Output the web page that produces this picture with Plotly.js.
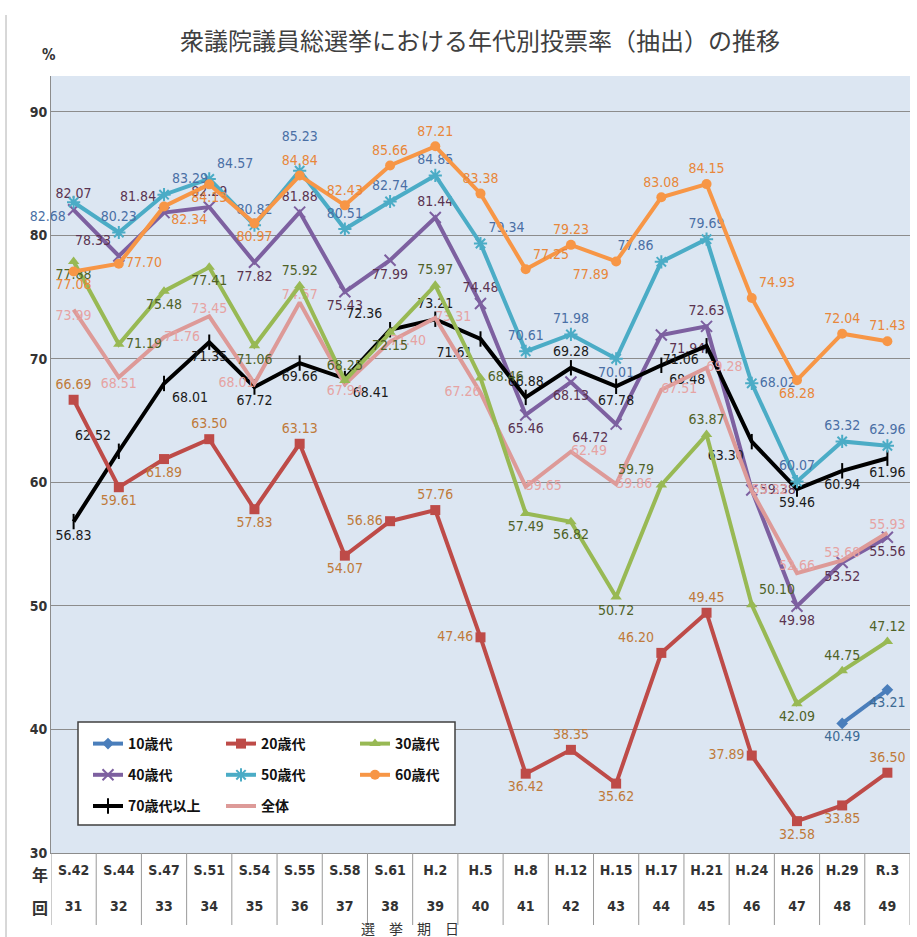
<!DOCTYPE html>
<html><head><meta charset="utf-8">
<script src="https://cdn.plot.ly/plotly-3.0.1.min.js"></script>
<style>html,body{margin:0;padding:0;background:#fff}#c{width:917px;height:937px}</style>
</head><body><div id="c"></div>
<script>
// ---- data ----
const eras = ['S.42','S.44','S.47','S.51','S.54','S.55','S.58','S.61','H.2','H.5','H.8','H.12','H.15','H.17','H.21','H.24','H.26','H.29','R.3'];
const rounds = ['31','32','33','34','35','36','37','38','39','40','41','42','43','44','45','46','47','48','49'];
const teens    = [null,null,null,null,null,null,null,null,null,null,null,null,null,null,null,null,null,40.49,43.21];
const twenties = [66.69,59.61,61.89,63.50,57.83,63.13,54.07,56.86,57.76,47.46,36.42,38.35,35.62,46.20,49.45,37.89,32.58,33.85,36.50];
const thirties = [77.88,71.19,75.48,77.41,71.06,75.92,68.25,72.15,75.97,68.46,57.49,56.82,50.72,59.79,63.87,50.10,42.09,44.75,47.12];
const forties  = [82.07,78.33,81.84,82.29,77.82,81.88,75.43,77.99,81.44,74.48,65.46,68.13,64.72,71.94,72.63,59.38,49.98,53.52,55.56];
const fifties  = [82.68,80.23,83.29,84.57,80.82,85.23,80.51,82.74,84.85,79.34,70.61,71.98,70.01,77.86,79.69,68.02,60.07,63.32,62.96];
const sixties  = [77.08,77.70,82.34,84.13,80.97,84.84,82.43,85.66,87.21,83.38,77.25,79.23,77.89,83.08,84.15,74.93,68.28,72.04,71.43];
const seventies= [56.83,62.52,68.01,71.35,67.72,69.66,68.41,72.36,73.21,71.61,66.88,69.28,67.78,69.48,71.06,63.30,59.46,60.94,61.96];
const overall  = [73.99,68.51,71.76,73.45,68.01,74.57,67.94,71.40,73.31,67.26,59.65,62.49,59.86,67.51,69.28,59.32,52.66,53.68,55.93];
const yTicks = [30,40,50,60,70,80,90];

// label placement per point
const T='top center',B='bottom center',L='middle left',R='middle right',TL='top left',TR='top right',BL='bottom left',BR='bottom right';
const pos10 = Array(19).fill(B);
const pos20 = [T,B,B,T,B,T,B,L,T,L,B,T,B,TL,T,L,B,B,T];
const pos30 = [B,R,B,B,B,T,T,B,T,R,B,B,B,TL,T,TR,B,T,T];
const pos40 = [T,TL,TL,T,B,T,B,B,T,T,B,B,BL,BR,T,R,B,B,B];
const pos50 = [BL,T,TR,TR,T,T,T,T,T,TR,T,T,B,TL,T,R,T,T,T];
const pos60 = [B,R,BR,B,B,T,T,T,T,T,TR,T,BL,T,T,TR,B,T,T];
const pos70 = [B,TL,BR,B,B,B,BR,TL,T,BL,T,T,B,BR,BL,BL,B,B,B];
const posAll= [B,B,R,T,L,T,B,R,R,L,R,R,R,R,R,R,T,T,T];
// labels lifted one extra line (index per series)
const lift50 = [5];

const numFont = 'DejaVu Sans Condensed, Liberation Sans Narrow, Arial Narrow, sans-serif';
const jpFont = 'Noto Sans CJK JP, sans-serif';
const fmt = (a, lift) => a.map((v, i) => v == null ? '' :
  v.toFixed(2) + ((lift || []).includes(i) ? '<br> ' : ''));

function series(name, y, color, lblColor, marker, pos, legend, lift) {
  const t = {
    type: 'scatter', mode: marker ? 'lines+markers+text' : 'lines+text',
    name: name, legend: legend, legendgroup: name,
    x: eras, y: y, text: fmt(y, lift), textposition: pos,
    textfont: {family: numFont, size: 14, color: lblColor},
    line: {color: color, width: 4},
    connectgaps: false, cliponaxis: false, hoverinfo: 'skip'
  };
  if (marker) t.marker = marker;
  return t;
}

const traces = [
  series('10歳代', teens, '#4a7ebb', '#3d6a94', {symbol:'diamond', size:9, color:'#4a7ebb'}, pos10, 'legend'),
  series('40歳代', forties, '#7d60a0', '#5a3350', {symbol:'x-thin-open', size:11, color:'#7d60a0', line:{width:2, color:'#7d60a0'}}, pos40, 'legend'),
  series('70歳代以上', seventies, '#000000', '#1a1a1a', {symbol:'line-ns-open', size:11, color:'#000', line:{width:2, color:'#000'}}, pos70, 'legend'),
  series('20歳代', twenties, '#be4b48', '#bf7a3a', {symbol:'square', size:10, color:'#be4b48'}, pos20, 'legend2'),
  series('50歳代', fifties, '#4bacc6', '#4a6fa5', {symbol:'asterisk-open', size:11, color:'#4bacc6', line:{width:2, color:'#4bacc6'}}, pos50, 'legend2', lift50),
  series('全体', overall, '#dd9a98', '#e6a3a3', null, posAll, 'legend2'),
  series('30歳代', thirties, '#98b954', '#4f6228', {symbol:'triangle-up', size:10, color:'#98b954'}, pos30, 'legend3'),
  series('60歳代', sixties, '#f79646', '#e8873a', {symbol:'circle', size:10, color:'#f79646'}, pos60, 'legend3')
];

// plot geometry helpers (layout decoration only)
const W = 917, H = 937, ml = 51, mr = 7, mt = 76, mb = 84;
const pw = W - ml - mr, ph = H - mt - mb;
const px = v => (v - ml) / pw;           // pixel x -> paper
const py = v => (H - mb - v) / ph;       // pixel y -> paper

const shapes = [];
for (let i = 0; i <= eras.length; i++) {
  shapes.push({type:'line', xref:'x', yref:'paper', x0:i-0.5, x1:i-0.5, y0:0, y1:py(925),
               line:{color:'#9a9a9a', width:1}});
}
// legend box
shapes.push({type:'rect', xref:'paper', yref:'paper', x0:px(78), x1:px(455), y0:py(825), y1:py(722),
             fillcolor:'#ffffff', line:{color:'#404040', width:1.5}, layer:'above'});
// chart frame left edge
shapes.push({type:'line', xref:'paper', yref:'paper', x0:px(6), x1:px(6), y0:py(937), y1:py(15),
             line:{color:'#b0b0b0', width:1}});

const legBase = {
  orientation:'v', xanchor:'left', yanchor:'top', bgcolor:'rgba(0,0,0,0)', borderwidth:0,
  font:{family:jpFont, size:14, color:'#111', weight:'bold'}, itemwidth:30, tracegroupgap:10,
  traceorder:'grouped', itemclick:false
};

const layout = {
  width: W, height: H,
  margin: {l: ml, r: mr, t: mt, b: mb},
  paper_bgcolor: '#ffffff', plot_bgcolor: '#dce6f2',
  title: {text: '衆議院議員総選挙における年代別投票率（抽出）の推移',
          font: {family: jpFont, size: 24, color: '#404040'},
          x: 480 / W, xanchor: 'center', y: 1 - 42 / H, yanchor: 'middle'},
  xaxis: {type:'category', showgrid:false, showline:true, linecolor:'#8c8c8c', linewidth:1,
          ticks:'', tickvals: eras, ticklabelstandoff: 4,
          ticktext: eras.map((e, i) => '<b>' + e + '</b><br> <br><b>' + rounds[i] + '</b>'),
          tickfont:{family:numFont, size:14, color:'#333'}, range:[-0.5, eras.length - 0.5],
          fixedrange:true},
  yaxis: {range:[30, 92.9], tickvals: yTicks, showgrid:true, gridcolor:'#8c8c8c', gridwidth:1,
          zeroline:false, showline:true, linecolor:'#8c8c8c', linewidth:1, ticks:'',
          tickfont:{family:numFont, size:14, color:'#333', weight:'bold'}, fixedrange:true},
  legend:  Object.assign({}, legBase, {x: px(88),  y: py(728)}),
  legend2: Object.assign({}, legBase, {x: px(221), y: py(728)}),
  legend3: Object.assign({}, legBase, {x: px(355), y: py(728)}),
  shapes: shapes,
  annotations: [
    {text:'<b>%</b>', xref:'paper', yref:'paper', x:px(40), y:py(55), yanchor:'middle', showarrow:false,
     font:{family:numFont, size:15, color:'#333'}},
    {text:'<b>年</b>', xref:'paper', yref:'paper', x:px(30), y:py(874), yanchor:'middle', showarrow:false,
     font:{family:jpFont, size:16, color:'#333'}},
    {text:'<b>回</b>', xref:'paper', yref:'paper', x:px(30), y:py(907), yanchor:'middle', showarrow:false,
     font:{family:jpFont, size:16, color:'#333'}},
    {text:'選　挙　期　日', xref:'paper', yref:'paper', x:px(410), y:py(928), yanchor:'middle', showarrow:false,
     font:{family:jpFont, size:14, color:'#333'}}
  ],
  showlegend: true
};

Plotly.newPlot('c', traces, layout, {staticPlot: true, displayModeBar: false});
</script>
</body></html>
